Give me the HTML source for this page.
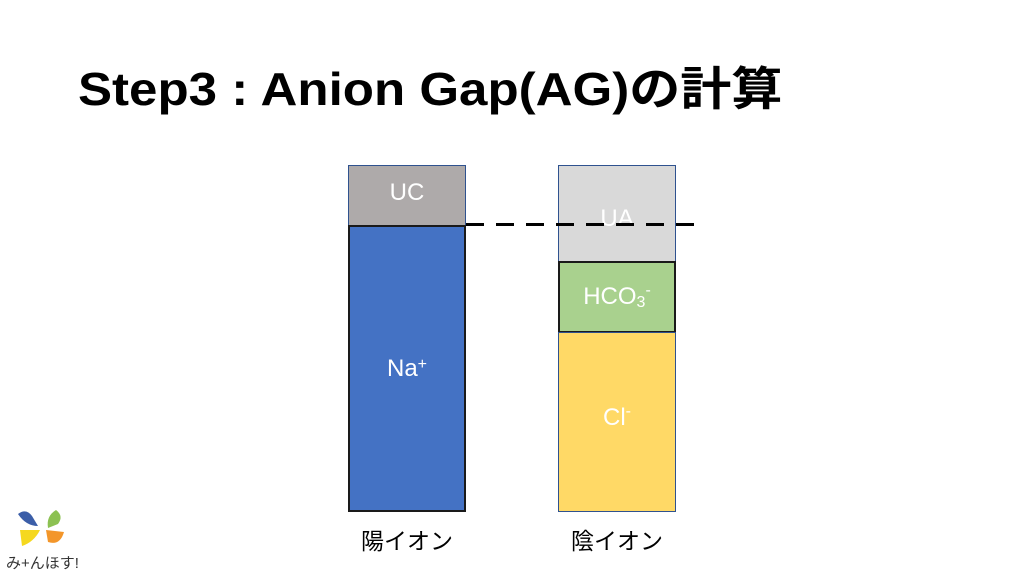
<!DOCTYPE html>
<html><head><meta charset="utf-8"><style>
body{margin:0;width:1024px;height:576px;background:#fff;position:relative;overflow:hidden;font-family:"Liberation Sans","Noto Sans CJK JP",sans-serif}
.a{position:absolute;box-sizing:border-box}
.t{color:#fff;font-size:24px;display:flex;align-items:center;justify-content:center}
</style></head><body>
<div class="a" style="left:78px;top:53px;font-size:46px;font-weight:bold;white-space:nowrap;color:#000;transform:scaleX(1.11);transform-origin:0 0">Step3 : Anion Gap(AG)の計算</div>
<div class="a t" style="left:348px;top:165px;width:118px;height:61px;background:#aeaaaa;border:1px solid #2f528f;padding-bottom:6px">UC</div>
<div class="a t" style="left:348px;top:225px;width:118px;height:287px;background:#4472c4;border:2px solid #1a1a1a">Na<sup style="font-size:16px;position:relative;top:-4px">+</sup></div>
<div class="a t" style="left:558px;top:165px;width:118px;height:97px;background:#d9d9d9;border:1px solid #2f528f;padding-top:10px">UA</div>
<div class="a t" style="left:558px;top:261px;width:118px;height:72px;background:#a9d18e;border:2px solid #1a1a1a">HCO<sub style="font-size:16px;position:relative;top:6px">3</sub><sup style="font-size:16px;position:relative;top:-6px">-</sup></div>
<div class="a t" style="left:558px;top:332px;width:118px;height:180px;background:#ffd966;border:1px solid #2f528f;padding-bottom:8px">Cl<sup style="font-size:16px;position:relative;top:-6px">-</sup></div>
<svg class="a" style="left:0;top:0" width="1024" height="576"><line x1="466" y1="224.5" x2="702" y2="224.5" stroke="#000" stroke-width="3" stroke-dasharray="18,12"/></svg>
<div class="a" style="left:338px;top:522px;width:138px;text-align:center;font-size:23px">陽イオン</div>
<div class="a" style="left:548px;top:522px;width:138px;text-align:center;font-size:23px">陰イオン</div>
<svg class="a" style="left:14px;top:508px" width="64" height="46">
<path d="M4 6 Q12 0 18 8 L24 18 Q12 18 4 6Z" fill="#3b5ea8"/>
<path d="M42 2 Q50 8 44 16 L34 20 Q32 8 42 2Z" fill="#8cc152"/>
<path d="M6 22 L26 22 Q20 34 8 38Z" fill="#f5d81e"/>
<path d="M32 22 L50 24 Q46 38 34 34Z" fill="#f3962a"/>
</svg>
<div class="a" style="left:6px;top:552px;font-size:15px;color:#333;white-space:nowrap">み+んほす!</div>
</body></html>
